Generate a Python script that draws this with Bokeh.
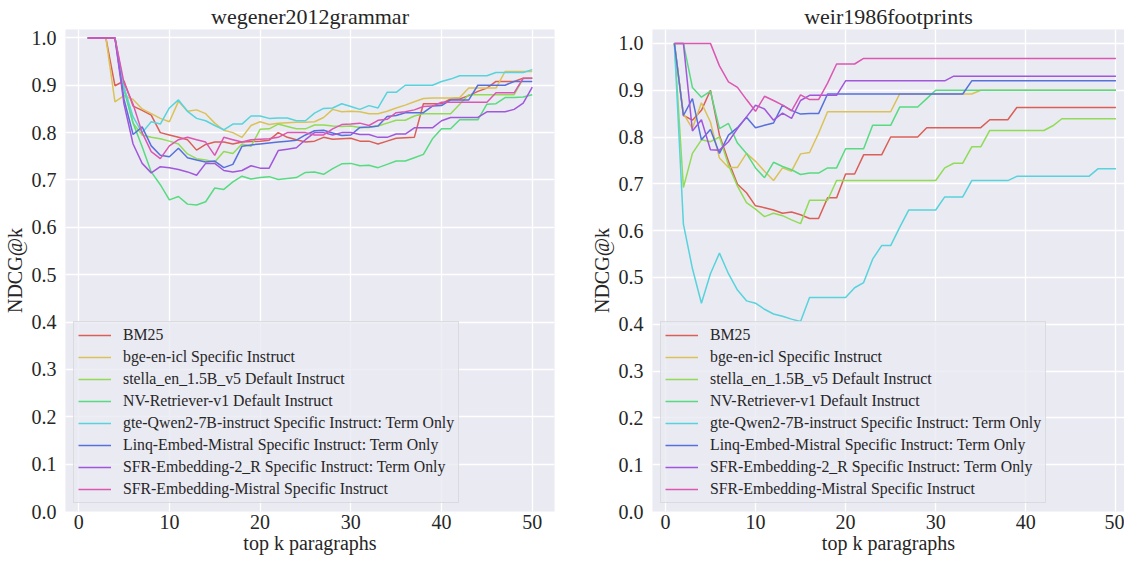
from bokeh.plotting import figure
from bokeh.layouts import row
from bokeh.models import Range1d, FixedTicker, PrintfTickFormatter
from bokeh.embed import file_html
from bokeh.resources import INLINE

k = list(range(1, 51))

names = [
    "BM25",
    "bge-en-icl Specific Instruct",
    "stella_en_1.5B_v5 Default Instruct",
    "NV-Retriever-v1 Default Instruct",
    "gte-Qwen2-7B-instruct Specific Instruct: Term Only",
    "Linq-Embed-Mistral Specific Instruct: Term Only",
    "SFR-Embedding-2_R Specific Instruct: Term Only",
    "SFR-Embedding-Mistral Specific Instruct",
]
colors = ["#db5f57", "#dbc257", "#91db57", "#57db80", "#57d3db", "#5770db", "#a157db", "#db57b2"]

# ---- wegener2012grammar ----
bm25_L = [1.0, 1.0, 1.0, 0.899, 0.909, 0.856, 0.847, 0.837, 0.80, 0.795,
          0.79, 0.785, 0.763, 0.775, 0.78, 0.78, 0.776, 0.78, 0.781, 0.782,
          0.784, 0.80, 0.79, 0.785, 0.78, 0.782, 0.79, 0.786, 0.787, 0.788,
          0.782, 0.782, 0.776, 0.782, 0.788, 0.789, 0.79, 0.861, 0.861, 0.861,
          0.871, 0.871, 0.878, 0.887, 0.894, 0.908, 0.908, 0.908, 0.915, 0.915]
bge_L = [1.0, 1.0, 1.0, 0.865, 0.878, 0.87, 0.85, 0.84, 0.83, 0.823,
         0.866, 0.845, 0.848, 0.84, 0.82, 0.805, 0.80, 0.79, 0.815, 0.823,
         0.817, 0.82, 0.821, 0.822, 0.822, 0.823, 0.832, 0.849, 0.844, 0.845,
         0.844, 0.84, 0.84, 0.845, 0.852, 0.858, 0.865, 0.872, 0.873, 0.873,
         0.873, 0.874, 0.894, 0.894, 0.894, 0.894, 0.929, 0.929, 0.929, 0.929]
stella_L = [1.0, 1.0, 1.0, 1.0, 0.895, 0.82, 0.795, 0.79, 0.787, 0.782,
            0.776, 0.755, 0.745, 0.742, 0.738, 0.76, 0.756, 0.776, 0.771, 0.807,
            0.808, 0.818, 0.813, 0.808, 0.808, 0.816, 0.816, 0.814, 0.813, 0.814,
            0.811, 0.811, 0.814, 0.82, 0.826, 0.826, 0.835, 0.84, 0.84, 0.84,
            0.84, 0.86, 0.88, 0.88, 0.88, 0.88, 0.88, 0.88, 0.914, 0.914]
nv_L = [1.0, 1.0, 1.0, 1.0, 0.89, 0.82, 0.77, 0.717, 0.69, 0.658,
        0.665, 0.649, 0.647, 0.654, 0.683, 0.68, 0.696, 0.708, 0.702, 0.705,
        0.707, 0.701, 0.703, 0.705, 0.716, 0.717, 0.712, 0.724, 0.734, 0.735,
        0.73, 0.731, 0.726, 0.733, 0.74, 0.74, 0.747, 0.754, 0.787, 0.808,
        0.808, 0.827, 0.827, 0.827, 0.86, 0.861, 0.874, 0.874, 0.875, 0.88]
gte_L = [1.0, 1.0, 1.0, 1.0, 0.896, 0.833, 0.80, 0.823, 0.818, 0.852,
         0.869, 0.845, 0.83, 0.825, 0.815, 0.806, 0.818, 0.818, 0.835, 0.835,
         0.83, 0.831, 0.831, 0.825, 0.825, 0.841, 0.851, 0.852, 0.861, 0.855,
         0.849, 0.857, 0.852, 0.885, 0.885, 0.90, 0.90, 0.90, 0.90, 0.908,
         0.913, 0.92, 0.92, 0.92, 0.92, 0.927, 0.927, 0.927, 0.927, 0.933]
linq_L = [1.0, 1.0, 1.0, 1.0, 0.87, 0.796, 0.812, 0.772, 0.752, 0.749,
          0.767, 0.747, 0.742, 0.738, 0.74, 0.726, 0.733, 0.771, 0.774, 0.776,
          0.778, 0.78, 0.782, 0.784, 0.795, 0.804, 0.805, 0.799, 0.794, 0.795,
          0.811, 0.812, 0.814, 0.834, 0.836, 0.842, 0.842, 0.842, 0.856, 0.857,
          0.869, 0.869, 0.869, 0.90, 0.90, 0.90, 0.90, 0.908, 0.908, 0.908]
sfr2_L = [1.0, 1.0, 1.0, 1.0, 0.86, 0.776, 0.735, 0.715, 0.728, 0.726,
          0.722, 0.717, 0.71, 0.735, 0.735, 0.72, 0.717, 0.72, 0.73, 0.725,
          0.725, 0.762, 0.765, 0.768, 0.785, 0.80, 0.80, 0.795, 0.80, 0.80,
          0.796, 0.796, 0.79, 0.79, 0.797, 0.797, 0.81, 0.81, 0.81, 0.825,
          0.832, 0.832, 0.832, 0.832, 0.844, 0.844, 0.844, 0.849, 0.862, 0.896]
sfrm_L = [1.0, 1.0, 1.0, 1.0, 0.905, 0.86, 0.80, 0.76, 0.745, 0.772,
          0.785, 0.79, 0.785, 0.78, 0.752, 0.79, 0.785, 0.78, 0.785, 0.786,
          0.787, 0.79, 0.80, 0.80, 0.80, 0.795, 0.795, 0.808, 0.817, 0.818,
          0.82, 0.815, 0.826, 0.828, 0.842, 0.844, 0.848, 0.855, 0.856, 0.864,
          0.864, 0.864, 0.864, 0.864, 0.864, 0.884, 0.884, 0.884, 0.915, 0.915]

# ---- weir1986footprints ----
bm25_R = [1.0, 0.846, 0.836, 0.857, 0.90, 0.804, 0.748, 0.699, 0.681, 0.653,
          0.649, 0.644, 0.637, 0.64, 0.634, 0.626, 0.626, 0.67, 0.67, 0.721,
          0.721, 0.762, 0.762, 0.762, 0.80, 0.80, 0.80, 0.80, 0.82, 0.82,
          0.82, 0.82, 0.82, 0.82, 0.82, 0.837, 0.837, 0.837, 0.863, 0.863,
          0.863, 0.863, 0.863, 0.863, 0.863, 0.863, 0.863, 0.863, 0.863, 0.863]
bge_R = [1.0, 0.85, 0.818, 0.873, 0.832, 0.755, 0.735, 0.735, 0.765, 0.748,
         0.727, 0.707, 0.734, 0.727, 0.764, 0.767, 0.808, 0.854, 0.854, 0.854,
         0.854, 0.854, 0.854, 0.854, 0.854, 0.892, 0.892, 0.892, 0.892, 0.892,
         0.892, 0.892, 0.892, 0.892, 0.90, 0.90, 0.90, 0.90, 0.90, 0.90,
         0.90, 0.90, 0.90, 0.90, 0.90, 0.90, 0.90, 0.90, 0.90, 0.90]
stella_R = [1.0, 0.692, 0.765, 0.794, 0.79, 0.80, 0.74, 0.695, 0.66, 0.646,
            0.63, 0.637, 0.632, 0.623, 0.615, 0.665, 0.665, 0.665, 0.707, 0.707,
            0.707, 0.707, 0.707, 0.707, 0.707, 0.707, 0.707, 0.707, 0.707, 0.707,
            0.734, 0.744, 0.744, 0.779, 0.779, 0.814, 0.814, 0.814, 0.814, 0.814,
            0.814, 0.814, 0.824, 0.839, 0.839, 0.839, 0.839, 0.839, 0.839, 0.839]
nv_R = [1.0, 1.0, 0.906, 0.885, 0.898, 0.818, 0.829, 0.787, 0.765, 0.734,
        0.713, 0.746, 0.737, 0.73, 0.72, 0.723, 0.723, 0.734, 0.734, 0.775,
        0.775, 0.775, 0.825, 0.825, 0.825, 0.864, 0.864, 0.864, 0.882, 0.90,
        0.90, 0.90, 0.90, 0.90, 0.90, 0.90, 0.90, 0.90, 0.90, 0.90,
        0.90, 0.90, 0.90, 0.90, 0.90, 0.90, 0.90, 0.90, 0.90, 0.90]
gte_R = [1.0, 0.614, 0.519, 0.445, 0.508, 0.552, 0.508, 0.473, 0.45, 0.445,
         0.432, 0.422, 0.417, 0.411, 0.406, 0.457, 0.457, 0.457, 0.457, 0.457,
         0.478, 0.489, 0.539, 0.568, 0.568, 0.607, 0.644, 0.644, 0.644, 0.644,
         0.672, 0.672, 0.672, 0.707, 0.707, 0.707, 0.707, 0.707, 0.716, 0.716,
         0.716, 0.716, 0.716, 0.716, 0.716, 0.716, 0.716, 0.732, 0.732, 0.732]
linq_R = [1.0, 0.846, 0.882, 0.794, 0.816, 0.765, 0.804, 0.82, 0.842, 0.82,
          0.825, 0.83, 0.868, 0.857, 0.849, 0.85, 0.85, 0.892, 0.892, 0.892,
          0.892, 0.892, 0.892, 0.892, 0.892, 0.892, 0.892, 0.892, 0.892, 0.892,
          0.892, 0.892, 0.892, 0.92, 0.92, 0.92, 0.92, 0.92, 0.92, 0.92,
          0.92, 0.92, 0.92, 0.92, 0.92, 0.92, 0.92, 0.92, 0.92, 0.92]
sfr2_R = [1.0, 1.0, 0.813, 0.837, 0.773, 0.772, 0.79, 0.818, 0.843, 0.868,
          0.86, 0.836, 0.851, 0.84, 0.878, 0.889, 0.889, 0.889, 0.889, 0.92,
          0.92, 0.92, 0.92, 0.92, 0.92, 0.92, 0.92, 0.92, 0.92, 0.92,
          0.92, 0.93, 0.93, 0.93, 0.93, 0.93, 0.93, 0.93, 0.93, 0.93,
          0.93, 0.93, 0.93, 0.93, 0.93, 0.93, 0.93, 0.93, 0.93, 0.93]
sfrm_R = [1.0, 1.0, 1.0, 1.0, 1.0, 0.952, 0.918, 0.906, 0.88, 0.855,
          0.887, 0.878, 0.868, 0.856, 0.89, 0.88, 0.88, 0.915, 0.956, 0.956,
          0.956, 0.968, 0.968, 0.968, 0.968, 0.968, 0.968, 0.968, 0.968, 0.968,
          0.968, 0.968, 0.968, 0.968, 0.968, 0.968, 0.968, 0.968, 0.968, 0.968,
          0.968, 0.968, 0.968, 0.968, 0.968, 0.968, 0.968, 0.968, 0.968, 0.968]

x_ticks = [0, 10, 20, 30, 40, 50]
y_ticks = [0.0, 0.1, 0.2, 0.3, 0.4, 0.5, 0.6, 0.7, 0.8, 0.9, 1.0]
x_label = "top k paragraphs"
y_label = "NDCG@k"

SERIF = "Liberation Serif"
TXT = "#262626"


def make(title, series, xr, yr, width, bl, br):
    p = figure(width=width, height=559, x_range=Range1d(*xr), y_range=Range1d(*yr),
               output_backend="svg", toolbar_location=None,
               min_border_left=bl, min_border_right=br, min_border_top=25, min_border_bottom=48,
               background_fill_color="#EAEAF2", border_fill_color="white", outline_line_color=None)
    p.title.text = title
    p.title.align = "center"
    p.title.text_font = SERIF
    p.title.text_font_size = "22px"
    p.title.text_font_style = "normal"
    p.title.text_color = TXT
    p.title.standoff = 2
    p.xaxis.ticker = FixedTicker(ticks=x_ticks)
    p.yaxis.ticker = FixedTicker(ticks=y_ticks)
    p.xaxis.formatter = PrintfTickFormatter(format="%d")
    p.yaxis.formatter = PrintfTickFormatter(format="%.1f")
    for ax in (p.xaxis, p.yaxis):
        ax.axis_line_color = None
        ax.major_tick_line_color = None
        ax.minor_tick_line_color = None
        ax.major_tick_out = 0
        ax.major_tick_in = 0
        ax.minor_tick_out = 0
        ax.minor_tick_in = 0
        ax.major_label_text_font = SERIF
        ax.major_label_text_font_size = "20px"
        ax.major_label_text_color = TXT
        ax.major_label_text_line_height = 1.0
        ax.axis_label_text_font = SERIF
        ax.axis_label_text_font_size = "20px"
        ax.axis_label_text_font_style = "normal"
        ax.axis_label_text_color = TXT
        ax.axis_label_text_line_height = 1.0
    p.xaxis.major_label_standoff = 3
    p.yaxis.major_label_standoff = 9
    p.xaxis.axis_label = x_label
    p.yaxis.axis_label = y_label
    p.xaxis.axis_label_standoff = 0
    p.yaxis.axis_label_standoff = 3
    p.xgrid.grid_line_color = "white"
    p.ygrid.grid_line_color = "white"
    p.xgrid.grid_line_width = 1.3
    p.ygrid.grid_line_width = 1.3
    for vals, name, col in zip(series, names, colors):
        p.line(k, vals, line_color=col, line_width=1.5, legend_label=name)
    lg = p.legend[0]
    lg.location = "bottom_left"
    lg.margin = 8
    lg.padding = 4
    lg.spacing = 4
    lg.label_height = 18
    lg.glyph_height = 18
    lg.glyph_width = 33
    lg.label_standoff = 12
    lg.label_text_font = SERIF
    lg.label_text_font_size = "15.8px"
    lg.label_text_color = TXT
    lg.background_fill_color = "#EAEAF2"
    lg.background_fill_alpha = 0.8
    lg.border_line_color = "#cccccc"
    lg.border_line_width = 1
    return p


p1 = make("wegener2012grammar",
          [bm25_L, bge_L, stella_L, nv_L, gte_L, linq_L, sfr2_L, sfrm_L],
          (-1.45, 52.45), (0, 1.0177), 587, 58, 33)
p2 = make("weir1986footprints",
          [bm25_R, bge_R, stella_R, nv_R, gte_R, linq_R, sfr2_R, sfrm_R],
          (-1.43, 50.95), (0, 1.0297), 537, 58, 0)

layout = row(p1, p2)
open("out.html", "w").write(file_html(layout, INLINE))
